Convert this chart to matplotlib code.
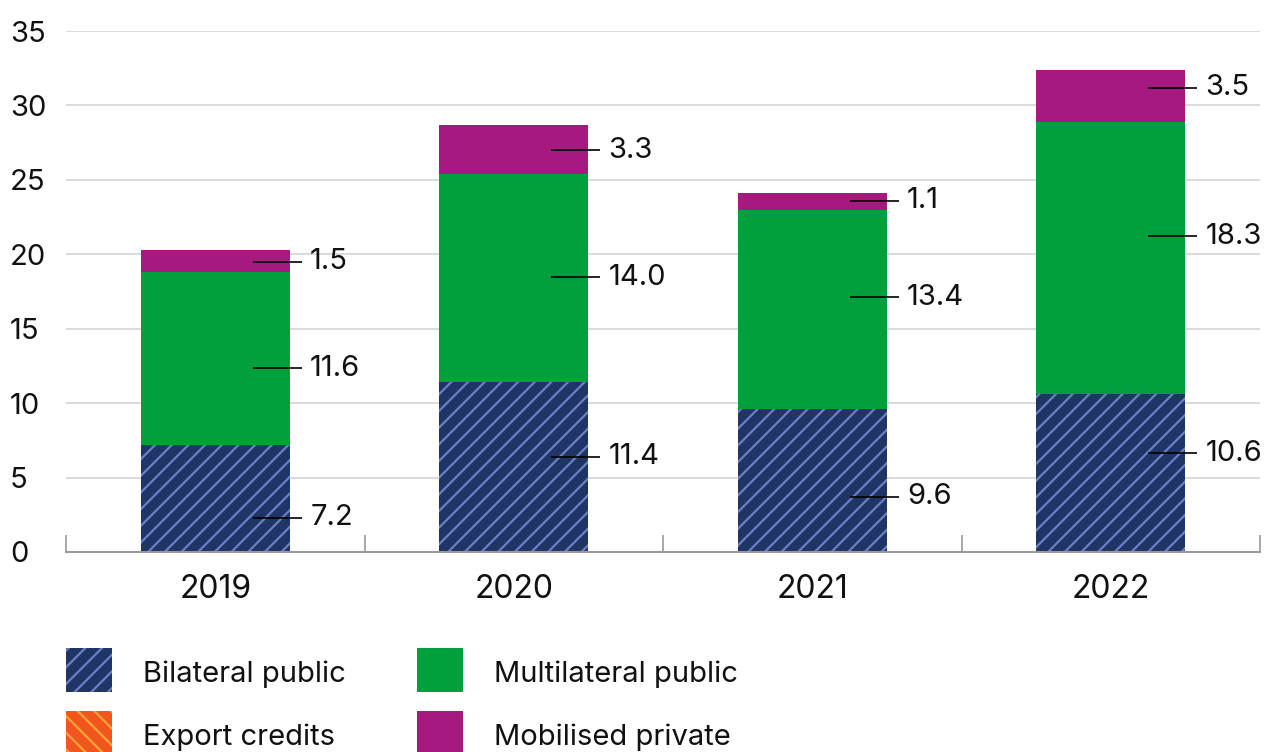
import matplotlib
matplotlib.use('Agg')
import matplotlib.pyplot as plt
from matplotlib.patches import Rectangle
import numpy as np

years = ['2019', '2020', '2021', '2022']
bilateral = [7.2, 11.4, 9.6, 10.6]
export_credits = [0.0, 0.0, 0.0, 0.0]
multilateral = [11.6, 14.0, 13.4, 18.3]
mobilised = [1.5, 3.3, 1.1, 3.5]
yticks = [0, 5, 10, 15, 20, 25, 30, 35]

# where each callout line points, in data units
bilateral_label_y = [2.3, 6.4, 3.7, 6.65]
multilateral_label_y = [12.35, 18.45, 17.1, 21.2]
mobilised_label_y = [19.5, 27.0, 23.6, 31.2]

NAVY = '#1f3566'
NAVY_HATCH = '#6b80c4'
ORANGE = '#f0561d'
ORANGE_HATCH = '#f7a535'
GREEN = '#00a03c'
PURPLE = '#a6197f'
TEXT = '#111111'

plt.rcParams['font.family'] = ['Inter', 'DejaVu Sans']
plt.rcParams['hatch.linewidth'] = 1.6

fig = plt.figure(figsize=(12.66, 7.52), dpi=100)
W, H = 1266, 752
ax = fig.add_axes([66 / W, 1 - 552 / H, (1260 - 66) / W, (552 - 31) / H])

x = np.arange(len(years))
width = 0.5

b1 = np.array(bilateral)
b2 = b1 + np.array(export_credits)
b3 = b2 + np.array(multilateral)

ax.bar(x, bilateral, width, color=NAVY, edgecolor=NAVY_HATCH, linewidth=0, hatch='//', zorder=3)
ax.bar(x, export_credits, width, bottom=b1, color=ORANGE, edgecolor=ORANGE_HATCH, linewidth=0,
       hatch='\\\\', zorder=3)
ax.bar(x, multilateral, width, bottom=b2, color=GREEN, linewidth=0, zorder=3)
ax.bar(x, mobilised, width, bottom=b3, color=PURPLE, linewidth=0, zorder=3)

series = [(bilateral, bilateral_label_y), (multilateral, multilateral_label_y),
          (mobilised, mobilised_label_y)]
for vals, ys in series:
    for i, (v, yy) in enumerate(zip(vals, ys)):
        ax.plot([i + 0.125, i + 0.29], [yy, yy], color='black', lw=1.2, zorder=4,
                solid_capstyle='butt')
        ax.text(i + 0.318, yy, f'{v:.1f}', fontsize=21, color=TEXT, va='center', ha='left',
                zorder=5)

ax.set_xlim(-0.5, 3.5)
ax.set_ylim(0, 35)
ax.set_yticks(yticks)
ax.set_yticklabels([str(t) for t in yticks], ha='left')
ax.set_xticks(x)
ax.set_xticklabels(years, fontsize=23, color=TEXT)
ax.set_xticks(np.arange(-0.5, 3.6, 1), minor=True)
ax.tick_params(axis='x', which='major', length=0, pad=16)
ax.tick_params(axis='x', which='minor', direction='in', length=12, width=1.2, color='#9a9a9a')
# left-aligned labels sitting ~56 px left of the axis
ax.tick_params(axis='y', length=0, labelsize=21, labelcolor=TEXT, pad=56 * 0.72)

ax.grid(axis='y', color='#d4d4d4', lw=1.2, zorder=0)
for s in ['left', 'right', 'top']:
    ax.spines[s].set_visible(False)
ax.spines['bottom'].set_color('#9a9a9a')
ax.spines['bottom'].set_linewidth(1.5)
ax.spines['bottom'].set_zorder(6)

# legend drawn as patches and text in pixel positions
legend_items = [
    ('Bilateral public', NAVY, NAVY_HATCH, '//', 66, 648),
    ('Multilateral public', GREEN, GREEN, None, 417, 648),
    ('Export credits', ORANGE, ORANGE_HATCH, '\\\\', 66, 711),
    ('Mobilised private', PURPLE, PURPLE, None, 417, 711),
]
for label, fc, ec, hatch, px, py in legend_items:
    fig.add_artist(Rectangle((px / W, 1 - (py + 44) / H), 46 / W, 44 / H,
                             transform=fig.transFigure, facecolor=fc, edgecolor=ec,
                             linewidth=0, hatch=hatch))
    fig.text((px + 77) / W, 1 - (py + 26) / H, label, fontsize=21, color=TEXT,
             va='center', ha='left')

fig.savefig('out.png', dpi=100)
